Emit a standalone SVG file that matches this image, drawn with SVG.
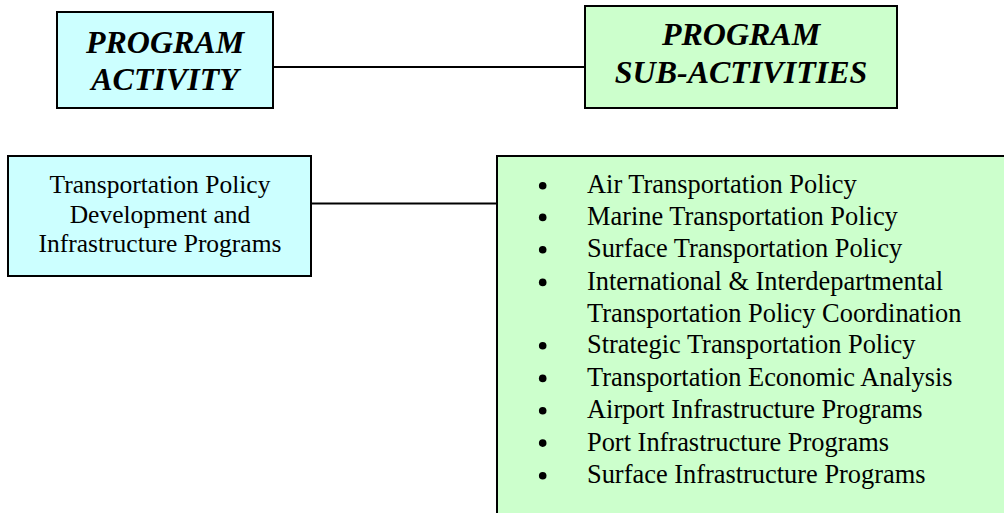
<svg xmlns="http://www.w3.org/2000/svg" width="1004" height="513" viewBox="0 0 1004 513">
<style>
.box{stroke:#000;stroke-width:2}
.cyan{fill:#CCFFFF}
.green{fill:#CCFFCC}
.hdr{font-family:"Liberation Serif","Times New Roman",serif;font-weight:bold;font-style:italic;font-size:32px;fill:#000;text-anchor:middle}
.body{font-family:"Liberation Serif","Times New Roman",serif;font-size:25.5px;fill:#000;text-anchor:middle}
.item{font-family:"Liberation Serif","Times New Roman",serif;font-size:26.4px;fill:#000}
.conn{stroke:#000;stroke-width:2;fill:none}
</style>
<rect width="1004" height="513" fill="#fff"/>
<g id="connectors">
<line class="conn" x1="273" y1="67" x2="585" y2="67"/>
<line class="conn" x1="311" y1="203.5" x2="497" y2="203.5"/>
</g>
<g id="program-activity-header">
<rect class="box cyan" x="57" y="12" width="216" height="96"/>
<text class="hdr" x="165" y="53">PROGRAM</text>
<text class="hdr" x="165" y="90">ACTIVITY</text>
</g>
<g id="program-sub-activities-header">
<rect class="box green" x="585" y="6" width="312" height="102"/>
<text class="hdr" x="741" y="45">PROGRAM</text>
<text class="hdr" x="741" y="82.5">SUB-ACTIVITIES</text>
</g>
<g id="program-activity">
<rect class="box cyan" x="8" y="156" width="303" height="120"/>
<text class="body" x="160" y="192.5">Transportation Policy</text>
<text class="body" x="160" y="222.5">Development and</text>
<text class="body" x="160" y="251.5">Infrastructure Programs</text>
</g>
<g id="program-sub-activities">
<rect class="box green" x="497" y="156" width="520" height="380"/>
<g fill="#000">
<circle cx="542.7" cy="185.7" r="3.8"/>
<circle cx="542.7" cy="217.4" r="3.8"/>
<circle cx="542.7" cy="249.7" r="3.8"/>
<circle cx="542.7" cy="282.4" r="3.8"/>
<circle cx="542.7" cy="345.7" r="3.8"/>
<circle cx="542.7" cy="378.4" r="3.8"/>
<circle cx="542.7" cy="410.7" r="3.8"/>
<circle cx="542.7" cy="443.1" r="3.8"/>
<circle cx="542.7" cy="475.7" r="3.8"/>
</g>
<text class="item" x="587" y="193.3">Air Transportation Policy</text>
<text class="item" x="587" y="225">Marine Transportation Policy</text>
<text class="item" x="587" y="257.3">Surface Transportation Policy</text>
<text class="item" x="587" y="290">International &amp; Interdepartmental</text>
<text class="item" x="587" y="321.7">Transportation Policy Coordination</text>
<text class="item" x="587" y="353.3">Strategic Transportation Policy</text>
<text class="item" x="587" y="386">Transportation Economic Analysis</text>
<text class="item" x="587" y="418.3">Airport Infrastructure Programs</text>
<text class="item" x="587" y="450.7">Port Infrastructure Programs</text>
<text class="item" x="587" y="483.3">Surface Infrastructure Programs</text>
</g>
</svg>
